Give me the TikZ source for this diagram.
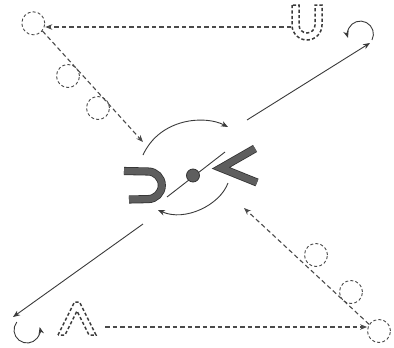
\documentclass[tikz,border=0pt]{standalone}
\usetikzlibrary{arrows.meta}
\definecolor{ink}{HTML}{3A3A3A}
\definecolor{dink}{HTML}{4A4A4A}
\definecolor{shapefill}{HTML}{5E5E5E}
\definecolor{shapeedge}{HTML}{333333}
\tikzset{
  tip/.style={-{Stealth[length=7pt,width=5.5pt,inset=2.2pt]}},
  solidarrow/.style={tip, draw=ink, line width=0.9pt},
  dasharrow/.style={tip, draw=dink, line width=1.1pt, dash pattern=on 4.5pt off 3pt},
  ghost/.style={circle, draw=dink, line width=0.9pt, dash pattern=on 3pt off 2.2pt, minimum size=23pt, inner sep=0pt},
  dottedletter/.style={draw=ink, line width=1.5pt, dash pattern=on 3.2pt off 2.2pt, line join=miter},
  boldletter/.style={draw=shapeedge, double=shapefill, double distance=6.5pt, line width=0.8pt, line join=miter, miter limit=10},
}
\begin{document}
\begin{tikzpicture}[x=1pt,y=-1pt]
\useasboundingbox (0,0) rectangle (394,348);

% ghost circles
\node[ghost] (c1) at (33.3,23.3) {};
\node[ghost] (c2) at (68,76) {};
\node[ghost] (c3) at (98,108) {};
\node[ghost] (c4) at (379,331) {};
\node[ghost] (c5) at (316,255) {};
\node[ghost] (c6) at (351,292) {};

% coordinates
\coordinate (uL) at (291,27);
\coordinate (lL) at (105,327);
\coordinate (a1) at (143,142);
\coordinate (a2) at (244,208);
\coordinate (urS) at (247,120);
\coordinate (urE) at (370,43);
\coordinate (llS) at (143,224);
\coordinate (llE) at (13,317);
\coordinate (mA) at (225,152);
\coordinate (mB) at (167,197);
\coordinate (taS) at (143,155);
\coordinate (taE) at (228,127);
\coordinate (baS) at (228,183);
\coordinate (baE) at (158,210);

% dashed letters (outlined)
\draw[dottedletter] (292,5) -- (292,25) arc[start angle=180, end angle=0, radius=15]
  -- (322,5) -- (315,5) -- (315,25) arc[start angle=0, end angle=180, radius=8] -- (299,5) -- cycle;
\draw[dottedletter] (58,335) -- (74.5,302) -- (79.5,302) -- (96,335) -- (89,335)
  -- (77,311) -- (65,335) -- cycle;

% dashed connectors
\draw[dasharrow] (uL) -- (uL -| c1.east);
\draw[dasharrow] (c1.-40) -- (a1);
\draw[dasharrow] (lL) -- (lL -| c4.west);
\draw[dasharrow] (c4.146) -- (a2);

% main diagonal
\draw[solidarrow] (urS) -- (urE);
\draw[solidarrow] (llS) -- (llE);
\draw[draw=ink, line width=0.9pt] (mA) -- (mB);

% curls
\draw[solidarrow] (372,40) arc[start angle=27, end angle=-197, radius=13];
\draw[solidarrow] (16.8,322) arc[start angle=218, end angle=-13, radius=13];

% center arcs
\draw[solidarrow] (taS) .. controls (160,118) and (205,115) .. (taE);
\draw[solidarrow] (baS) .. controls (220,205) and (185,222) .. (baE);

% bold letters
\draw[boldletter] (124,171) -- (148,171.5) arc[start angle=-90, end angle=90, radius=13.8] -- (129,199.5);
\draw[boldletter] (255,148.5) -- (221,168) -- (257,182.5);

% dot
\node[circle, fill=shapefill, draw=shapeedge, line width=0.8pt, minimum size=13pt, inner sep=0pt] (dot) at (193,175.5) {};
\end{tikzpicture}
\end{document}
